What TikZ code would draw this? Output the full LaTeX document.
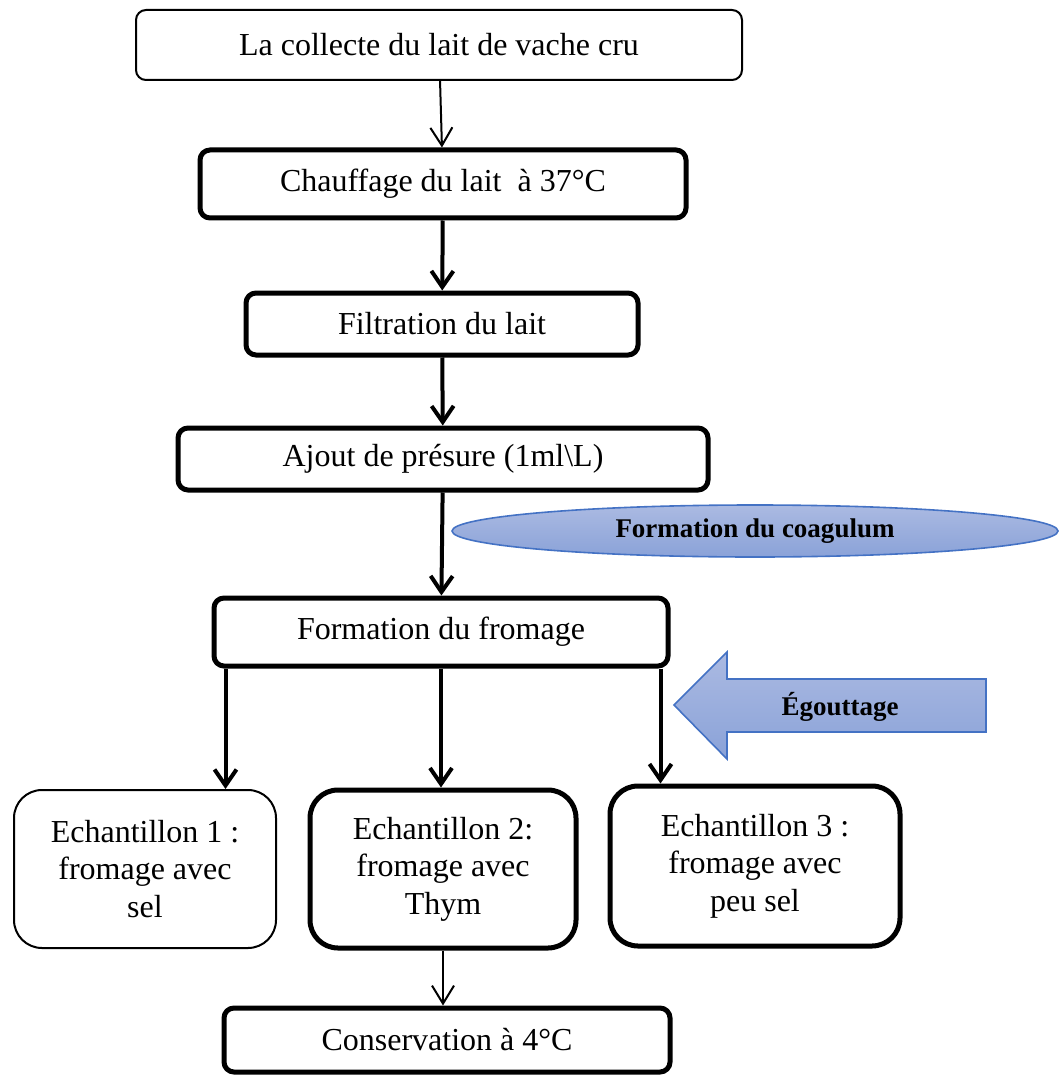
\documentclass[tikz,border=0pt]{standalone}
\usepackage{fontspec}
\setmainfont{Liberation Serif}
\usetikzlibrary{arrows.meta,shapes.geometric}
\definecolor{shadetop}{HTML}{ABBAE2}
\definecolor{shadebot}{HTML}{8AA2D8}
\definecolor{edgeblue}{HTML}{4472C4}
\begin{document}
\begin{tikzpicture}[x=0.5pt,y=-0.5pt,
    thinbox/.style={draw, line width=1pt, rounded corners=5pt, align=center,
      inner sep=0pt, font=\fontsize{16}{19}\selectfont},
    thickbox/.style={thinbox, line width=2.5pt},
    samplebox/.style={rounded corners=14pt, font=\fontsize{16}{18.75}\selectfont},
    thinarrow/.style={line width=1pt, -{Straight Barb[length=9pt,width=11pt]}},
    thickarrow/.style={line width=2pt, -{Straight Barb[length=8pt,width=11pt]}},
    bluefill/.style={top color=shadetop, bottom color=shadebot, draw=edgeblue, line width=0.8pt},
    bluetext/.style={font=\fontsize{13.5}{16}\selectfont\bfseries}]
  \useasboundingbox (0,0) rectangle (1059,1075);
  % main steps
  \node[thinbox, minimum width=303pt, minimum height=35pt] (collecte) at (439,45) {La collecte du lait de vache cru};
  \node[thickbox, minimum width=243pt, minimum height=34pt] (chauffage) at (443,184) {Chauffage du lait \ à 37°C};
  \node[thickbox, minimum width=196pt, minimum height=31pt] (filtration) at (442,324) {Filtration du lait};
  \node[thickbox, minimum width=265pt, minimum height=31pt] (ajout) at (443,459) {Ajout de présure (1ml\textbackslash L)};
  \node[thickbox, minimum width=227pt, minimum height=34pt] (fromage) at (441,632) {Formation du fromage};
  % samples
  \node[thinbox, samplebox, minimum width=131pt, minimum height=79pt] (ech1) at (145,869) {Echantillon 1 :\\fromage avec\\sel};
  \node[thickbox, samplebox, minimum width=133pt, minimum height=79pt] (ech2) at (443,869) {Echantillon 2:\\fromage avec\\Thym};
  \node[thickbox, samplebox, minimum width=145pt, minimum height=80pt] (ech3) at (755,866) {Echantillon 3 :\\fromage avec\\peu sel};
  \node[thickbox, minimum width=223pt, minimum height=32pt] (conservation) at (447,1040) {Conservation à 4°C};
  % side notes
  \node[ellipse, bluefill, bluetext, minimum width=303pt, minimum height=26pt, inner sep=0pt] (coagulum) at (755,531) {Formation du coagulum};
  \draw[bluefill] (674,705) -- (727,652) -- (727,679) -- (986,679) -- (986,732)
    -- (727,732) -- (727,759) -- cycle;
  \node[bluetext] (egouttage) at (840,707) {Égouttage};
  % connectors
  \draw[thinarrow] (collecte) -- (chauffage);
  \draw[thickarrow] (chauffage) -- (filtration);
  \draw[thickarrow] (filtration) -- (ajout);
  \draw[thickarrow] (ajout) -- (fromage);
  \draw[thickarrow] ([xshift=7pt]fromage.south west) -- ([xshift=7pt]fromage.south west |- ech1.north);
  \draw[thickarrow] (fromage) -- (fromage |- ech2.north);
  \draw[thickarrow] ([xshift=-5pt]fromage.south east) -- ([xshift=-5pt]fromage.south east |- ech3.north);
  \draw[thinarrow] (ech2) -- (ech2 |- conservation.north);
\end{tikzpicture}
\end{document}
